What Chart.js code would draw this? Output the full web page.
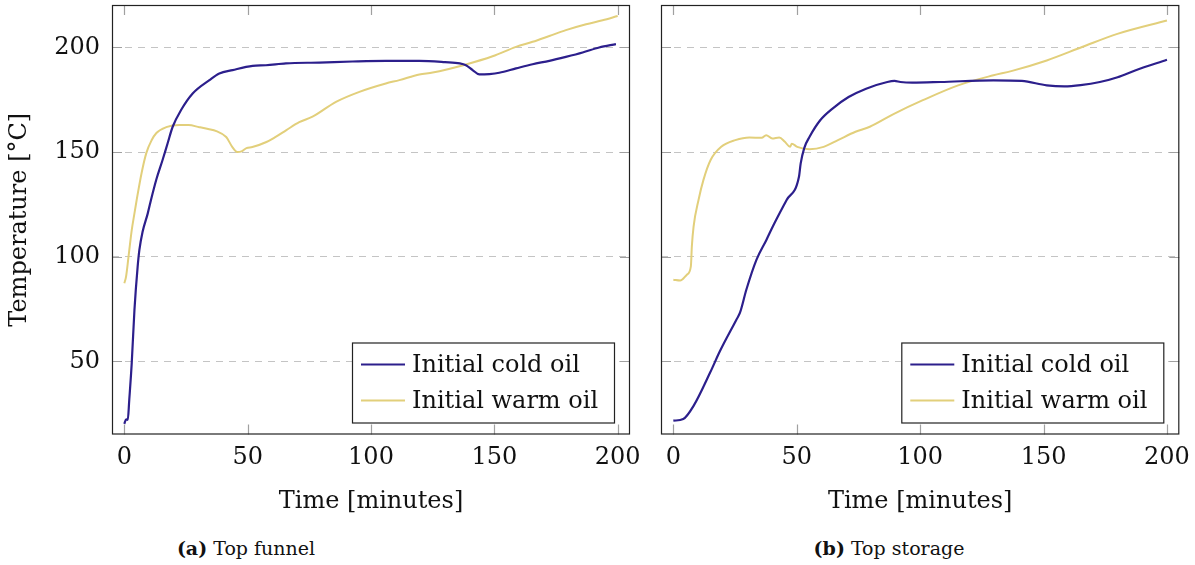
<!DOCTYPE html>
<html>
<head>
<meta charset="utf-8">
<script src="https://cdn.jsdelivr.net/npm/chart.js@4.4.1/dist/chart.umd.min.js"></script>
<style>
  body { margin: 0; background: #fff; width: 1195px; height: 565px; position: relative; overflow: hidden; }
  canvas { position: absolute; top: 0; }
  #funnel { left: 0; }
  #storage { left: 640px; }
  .caption { position: absolute; top: 537px; font: 19px 'DejaVu Serif', serif; color: #111; transform: translateX(-50%); white-space: nowrap; }
</style>
</head>
<body>
<canvas id="funnel" width="660" height="520"></canvas>
<canvas id="storage" width="555" height="520"></canvas>
<div class="caption" style="left: 246px"><b>(a)</b> Top funnel</div>
<div class="caption" style="left: 889px"><b>(b)</b> Top storage</div>
<script>
// (a) top funnel
const funnelColdTime = [0, 0.7, 1.4, 2, 3, 4.1, 5.4, 6.1, 7.4, 9.5, 10.8, 13, 15.5, 17.5, 19.6, 23, 27.7, 34.5, 38.5, 43.9, 52, 57.4, 65.5, 79, 92.5, 106, 119.6, 130, 136, 138.5, 141.2, 143.9, 148, 152, 158.8, 165.5, 172.3, 179, 185.8, 192.5, 199.3]
const funnelColdTemp = [20.1, 22.3, 22, 31.6, 49.1, 74.5, 95.2, 103.2, 111.9, 120.7, 127.1, 137, 146.2, 154, 162.1, 170.1, 178, 184.4, 187.6, 189.2, 191.2, 191.5, 192.4, 192.8, 193.3, 193.6, 193.6, 193, 192.4, 191.5, 189.2, 187.1, 187.3, 187.9, 190, 192, 193.6, 195.5, 197.6, 200, 201.6]
const funnelWarmTime = [0, 0.7, 1.7, 3, 4.1, 5, 7, 8.9, 11, 13, 17, 22.3, 26, 30.4, 34, 37.3, 41.3, 43.8, 45.8, 47.5, 49.5, 51.9, 57.6, 61, 65.7, 70.9, 76.3, 85.8, 95.3, 106, 111.5, 119.6, 125, 138.5, 149.3, 158.8, 165.5, 172.3, 179, 187.2, 193.9, 200]
const funnelWarmTemp = [87.3, 90.5, 100, 112.7, 120.7, 127.1, 140, 149.5, 155.5, 159.1, 161.9, 162.9, 162.9, 161.9, 161, 160, 157.2, 152.4, 150, 150.3, 151.9, 152.4, 154.8, 157, 160.5, 164.3, 166.9, 174, 178.8, 182.8, 184.4, 187.1, 188, 191.9, 195.8, 200.3, 202.7, 205.5, 208.3, 211.1, 213, 215]

// (b) top storage
const storageColdTime = [0, 4, 8.2, 14.9, 18.9, 25.6, 27, 29.6, 33.7, 37.7, 40.3, 45.9, 50.9, 51.6, 53, 55.2, 59.5, 64.5, 71, 78.1, 86.7, 89.6, 92, 96.8, 108.2, 129.7, 141.2, 151.3, 158.4, 165, 172.8, 180, 187.1, 200]
const storageColdTemp = [21.6, 22.4, 28.7, 44.6, 54.9, 70, 73.2, 84.3, 98.6, 108, 114.4, 127.1, 138.2, 144.6, 151.8, 157.3, 165.2, 170.8, 176.3, 180.3, 183.5, 184, 183.5, 183.2, 183.5, 184.3, 184, 181.9, 181.4, 182, 183.5, 185.8, 189, 194.1]
const storageWarmTime = [0, 2.8, 5.5, 7.1, 7.5, 8.2, 10.2, 12.2, 15.1, 19.4, 25.1, 30.8, 35.8, 37.6, 40.1, 42.9, 45.2, 47.3, 48, 50.2, 55.2, 60.9, 66.7, 73.8, 79.6, 89.6, 101.1, 115.4, 129.7, 136.9, 151.3, 165.6, 179.9, 200]
const storageWarmTemp = [89, 88.6, 91.4, 95.4, 104.9, 114.4, 127.1, 136.7, 146.2, 152.5, 155.7, 157, 156.8, 158.1, 156.5, 157, 154.9, 152.5, 154, 152.5, 151.4, 152.5, 155.7, 159.7, 162.1, 168.4, 174.8, 181.9, 186.7, 188.7, 193.8, 200.2, 206.5, 212.9]

const seriesLabels = ['Initial cold oil', 'Initial warm oil']
const xTicks = [0, 50, 100, 150, 200]
const yTicks = [50, 100, 150, 200]

const COLD = '#2c1f8c'
const WARM = '#e2cf7b'
const FONT = "'DejaVu Serif', serif"

const toPoints = (xs, ys) => xs.map((x, i) => ({ x: x, y: ys[i] }))

// inward ticks, dashed grid is done by chart.js
const ticksPlugin = {
  id: 'inwardTicks',
  beforeDatasetsDraw (chart) {
    const { ctx, chartArea: a, scales: { x, y } } = chart
    ctx.save()
    ctx.strokeStyle = '#a0a0a0'
    ctx.lineWidth = 1.2
    ctx.beginPath()
    x.ticks.forEach(t => {
      const px = Math.round(x.getPixelForValue(t.value)) + 0.5
      ctx.moveTo(px, a.bottom); ctx.lineTo(px, a.bottom - 10)
      ctx.moveTo(px, a.top); ctx.lineTo(px, a.top + 10)
    })
    y.ticks.forEach(t => {
      const py = Math.round(y.getPixelForValue(t.value)) + 0.5
      ctx.moveTo(a.left, py); ctx.lineTo(a.left + 10, py)
      ctx.moveTo(a.right, py); ctx.lineTo(a.right - 10, py)
    })
    ctx.stroke()
    ctx.restore()
  },
  afterDraw (chart) {
    const { ctx, chartArea: a } = chart
    ctx.save()
    // frame
    ctx.strokeStyle = '#222'
    ctx.lineWidth = 1.2
    ctx.strokeRect(a.left + 0.5, a.top + 0.5, a.width - 1, a.height - 1)

    // legend box in lower right corner
    const w = 262
    const h = 80
    const bx = a.right - 16 - w
    const by = a.bottom - 12 - h
    ctx.fillStyle = '#fff'
    ctx.fillRect(bx, by, w, h)
    ctx.strokeRect(bx + 0.5, by + 0.5, w, h)
    ctx.font = '24px ' + FONT
    ctx.textBaseline = 'middle'
    ctx.fillStyle = '#111'
    chart.data.datasets.forEach((ds, i) => {
      const ly = by + 22 + i * 36
      ctx.strokeStyle = ds.borderColor
      ctx.lineWidth = 2
      ctx.beginPath()
      ctx.moveTo(bx + 9, ly); ctx.lineTo(bx + 53, ly)
      ctx.stroke()
      ctx.fillText(ds.label, bx + 60, ly + 1)
    })
    ctx.restore()
  }
}

function makeChart (id, cold, warm, yWidth, padRight, showY) {
  const canvas = document.getElementById(id)
  const chartBottom = 434.5
  return new Chart(canvas.getContext('2d'), {
    type: 'line',
    data: {
      datasets: [
        { label: seriesLabels[0], data: cold, borderColor: COLD, borderWidth: 2.2 },
        { label: seriesLabels[1], data: warm, borderColor: WARM, borderWidth: 2 }
      ]
    },
    options: {
      responsive: false,
      animation: false,
      devicePixelRatio: 1,
      layout: { padding: { top: 5, right: padRight, left: 0, bottom: 0 } },
      elements: {
        point: { radius: 0 },
        line: { cubicInterpolationMode: 'monotone', fill: false }
      },
      plugins: { legend: { display: false }, tooltip: { enabled: false } },
      scales: {
        x: {
          type: 'linear',
          min: -5,
          max: 205,
          afterBuildTicks: s => { s.ticks = xTicks.map(v => ({ value: v })) },
          afterFit: s => { s.height = canvas.height - chartBottom },
          grid: { display: false },
          border: { display: false },
          ticks: { color: '#111', font: { family: FONT, size: 24 }, padding: 1, maxRotation: 0 },
          title: { display: true, text: 'Time [minutes]', color: '#111', font: { family: FONT, size: 24 }, padding: { top: 8 } }
        },
        y: {
          min: 15,
          max: 220.3,
          afterBuildTicks: s => { s.ticks = yTicks.map(v => ({ value: v })) },
          afterFit: s => {
            s.width = yWidth
            s.paddingTop = 0
            s.paddingBottom = 0
          },
          grid: { color: '#c4c4c4', lineWidth: 1, drawTicks: false },
          border: { display: false, dash: [7, 6] },
          ticks: { display: showY, color: '#111', font: { family: FONT, size: 24 }, padding: 12 },
          title: { display: showY, text: 'Temperature [°C]', color: '#111', font: { family: FONT, size: 24 }, padding: { top: 5 } }
        }
      }
    },
    plugins: [ticksPlugin]
  })
}

makeChart('funnel', toPoints(funnelColdTime, funnelColdTemp), toPoints(funnelWarmTime, funnelWarmTemp), 112, 30, true)
makeChart('storage', toPoints(storageColdTime, storageColdTemp), toPoints(storageWarmTime, storageWarmTemp), 21, 15.7, false)
</script>
</body>
</html>
